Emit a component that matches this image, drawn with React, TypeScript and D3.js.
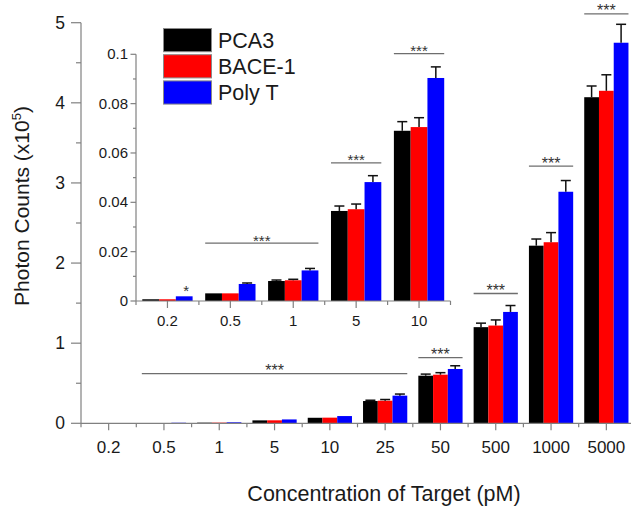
import React from 'react';
import * as d3 from 'd3';

const categories = ['0.2', '0.5', '1', '5', '10', '25', '50', '500', '1000', '5000'];
const seriesNames = ['PCA3', 'BACE-1', 'Poly T'];
const seriesColors = ['#000000', '#ff0000', '#0000ff'];
const pca3 = [0.0007, 0.0031, 0.0081, 0.0365, 0.069, 0.278, 0.594, 1.2, 2.217, 4.07];
const bace1 = [0.0007, 0.0031, 0.0084, 0.0372, 0.0705, 0.282, 0.607, 1.22, 2.26, 4.15];
const polyT = [0.0019, 0.0069, 0.0124, 0.0482, 0.0904, 0.345, 0.678, 1.39, 2.89, 4.75];
const pca3Err = [0.0001, 0.0002, 0.0004, 0.002, 0.0037, 0.01, 0.02, 0.05, 0.083, 0.14];
const bace1Err = [0.0001, 0.0002, 0.0004, 0.0021, 0.0038, 0.015, 0.025, 0.07, 0.12, 0.2];
const polyTErr = [0.0002, 0.0004, 0.0008, 0.0026, 0.0045, 0.02, 0.04, 0.08, 0.14, 0.23];
const yTicks = [0, 1, 2, 3, 4, 5];
const yMinorTicks = [0.5, 1.5, 2.5, 3.5, 4.5];
const insetCategories = ['0.2', '0.5', '1', '5', '10'];
const insetYTicks = [0, 0.02, 0.04, 0.06, 0.08, 0.1];
const insetYTickLabels = ['0', '0.02', '0.04', '0.06', '0.08', '0.1'];
const insetYMinorTicks = [0.01, 0.03, 0.05, 0.07, 0.09];

const mainSigFrom = ['0.5', '50', '500', '1000', '5000'];
const mainSigTo = ['25', '50', '500', '1000', '5000'];
const mainSigY = [0.62, 0.82, 1.62, 3.21, 5.11];
const insetSigFrom = ['0.5', '5', '10'];
const insetSigTo = ['1', '5', '10'];
const insetSigY = [0.0235, 0.056, 0.1003];
const insetStarCat = '0.2';
const insetStarY = 0.0031;

const values = [pca3, bace1, polyT];
const errors = [pca3Err, bace1Err, polyTErr];

const FONT = "Arial, 'Liberation Sans', Helvetica, sans-serif";
const AXIS = '#808080';
const TXT = '#1a1a1a';

function Bars({ x, sub, y, cats }: any) {
  const out: any[] = [];
  cats.forEach((c: string) => {
    const ci = categories.indexOf(c);
    seriesNames.forEach((s, si) => {
      const v = values[si][ci];
      const e = errors[si][ci];
      const bx = (x(c) as number) + (sub(s) as number);
      const bw = sub.bandwidth();
      const top = y(v);
      const base = y(0);
      out.push(
        <rect key={`b-${c}-${s}`} x={bx} y={top} width={bw} height={Math.max(0, base - top)} fill={seriesColors[si]} />
      );
      const cx = bx + bw / 2;
      const et = y(v + e);
      if (top - et > 0.6) {
        out.push(
          <g key={`e-${c}-${s}`} stroke="#111" strokeWidth={1.5}>
            <line x1={cx} x2={cx} y1={top} y2={et} />
            <line x1={cx - 5} x2={cx + 5} y1={et} y2={et} />
          </g>
        );
      }
    });
  });
  return <g>{out}</g>;
}

function SigLines({ x, y, from, to, ys, fontSize }: any) {
  return (
    <g>
      {from.map((f: string, i: number) => {
        const x1 = (x(f) as number) + x.bandwidth() * 0.1;
        const x2 = (x(to[i]) as number) + x.bandwidth() * 0.9;
        const yy = y(ys[i]);
        return (
          <g key={i}>
            <line x1={x1} x2={x2} y1={yy} y2={yy} stroke="#6e6e6e" strokeWidth={1.3} />
            <text x={(x1 + x2) / 2} y={yy + 2.5} textAnchor="middle" fontSize={fontSize} fill="#333" fontFamily={FONT}>
              ***
            </text>
          </g>
        );
      })}
    </g>
  );
}

export default function App() {
  const W = 631;
  const H = 506;

  const x = d3.scaleBand<string>().domain(categories).range([81, 81 + 55.3 * 10]).paddingInner(0).paddingOuter(0);
  const sub = d3.scaleBand<string>().domain(seriesNames).range([x.bandwidth() * 0.1, x.bandwidth() * 0.9]).padding(0);
  const y = d3.scaleLinear().domain([0, 5]).range([423.3, 22.7]);

  const xi = d3.scaleBand<string>().domain(insetCategories).range([136, 136 + 62.9 * 5]).paddingInner(0).paddingOuter(0);
  const subi = d3.scaleBand<string>().domain(seriesNames).range([xi.bandwidth() * 0.1, xi.bandwidth() * 0.9]).padding(0);
  const yi = d3.scaleLinear().domain([0, 0.1]).range([301, 54.3]);

  const y0 = y(0);
  const yi0 = yi(0);

  return (
    <svg width={W} height={H} style={{ position: 'absolute', left: 0, top: 0, background: '#fff' }} fontFamily={FONT}>
      <rect x={0} y={0} width={W} height={H} fill="#fff" />

      <Bars x={x} sub={sub} y={y} cats={categories} />

      <g stroke={AXIS} strokeWidth={1.2}>
        <line x1={81} x2={81} y1={y(5)} y2={y0} />
        <line x1={81} x2={W} y1={y0} y2={y0} />
        {yTicks.map((t) => (
          <line key={`yt${t}`} x1={71} x2={81} y1={y(t)} y2={y(t)} />
        ))}
        {yMinorTicks.map((t) => (
          <line key={`ym${t}`} x1={76} x2={81} y1={y(t)} y2={y(t)} />
        ))}
        {categories.map((c) => (
          <line key={`xt${c}`} x1={(x(c) as number) + x.bandwidth() / 2} x2={(x(c) as number) + x.bandwidth() / 2} y1={y0} y2={y0 + 7} />
        ))}
        {categories.map((c) => (
          <line key={`xm${c}`} x1={x(c) as number} x2={x(c) as number} y1={y0} y2={y0 + 4} />
        ))}
      </g>
      {yTicks.map((t) => (
        <text key={`yl${t}`} x={65} y={y(t) + 6} textAnchor="end" fontSize={17.5} fill={TXT}>
          {t}
        </text>
      ))}
      {categories.map((c) => (
        <text key={`xl${c}`} x={(x(c) as number) + x.bandwidth() / 2} y={453} textAnchor="middle" fontSize={17} fill={TXT}>
          {c}
        </text>
      ))}

      <SigLines x={x} y={y} from={mainSigFrom} to={mainSigTo} ys={mainSigY} fontSize={16} />

      <text x={384} y={501} textAnchor="middle" fontSize={21.5} fill={TXT}>
        Concentration of Target (pM)
      </text>
      <text transform="translate(29,206) rotate(-90)" textAnchor="middle" fontSize={21} fill={TXT}>
        Photon Counts (x10
        <tspan fontSize={13} dy={-8}>5</tspan>
        <tspan dy={8}>)</tspan>
      </text>

      <Bars x={xi} sub={subi} y={yi} cats={insetCategories} />
      <g stroke={AXIS} strokeWidth={1.2}>
        <line x1={136} x2={136} y1={yi(0.1)} y2={yi0} />
        <line x1={136} x2={136 + 62.9 * 5} y1={yi0} y2={yi0} />
        {insetYTicks.map((t) => (
          <line key={`iyt${t}`} x1={130.5} x2={136} y1={yi(t)} y2={yi(t)} />
        ))}
        {insetYMinorTicks.map((t) => (
          <line key={`iym${t}`} x1={133} x2={136} y1={yi(t)} y2={yi(t)} />
        ))}
        {insetCategories.map((c) => (
          <line key={`ixt${c}`} x1={(xi(c) as number) + xi.bandwidth() / 2} x2={(xi(c) as number) + xi.bandwidth() / 2} y1={yi0} y2={yi0 + 7} />
        ))}
        {insetCategories.map((c) => (
          <line key={`ixm${c}`} x1={xi(c) as number} x2={xi(c) as number} y1={yi0} y2={yi0 + 4} />
        ))}
        <line x1={136 + 62.9 * 5} x2={136 + 62.9 * 5} y1={yi0} y2={yi0 + 4} />
      </g>
      {insetYTicks.map((t, i) => (
        <text key={`iyl${t}`} x={128} y={yi(t) + 5} textAnchor="end" fontSize={15} fill={TXT}>
          {insetYTickLabels[i]}
        </text>
      ))}
      {insetCategories.map((c) => (
        <text key={`ixl${c}`} x={(xi(c) as number) + xi.bandwidth() / 2} y={326} textAnchor="middle" fontSize={15} fill={TXT}>
          {c}
        </text>
      ))}
      <SigLines x={xi} y={yi} from={insetSigFrom} to={insetSigTo} ys={insetSigY} fontSize={15} />
      <text
        x={(xi(insetStarCat) as number) + (subi('Poly T') as number) + subi.bandwidth() / 2 + 2}
        y={yi(insetStarY) + 2.5}
        textAnchor="middle"
        fontSize={15}
        fill="#333"
      >
        *
      </text>

      {seriesNames.map((s, i) => (
        <g key={`lg${s}`}>
          <rect x={163.5} y={28.5 + i * 26.2} width={48} height={23.2} fill={seriesColors[i]} stroke="#8a8a8a" strokeWidth={1} />
          <text x={218} y={28.5 + i * 26.2 + 11.6 + 7.5} fontSize={21.5} fill={TXT}>
            {s}
          </text>
        </g>
      ))}
    </svg>
  );
}
